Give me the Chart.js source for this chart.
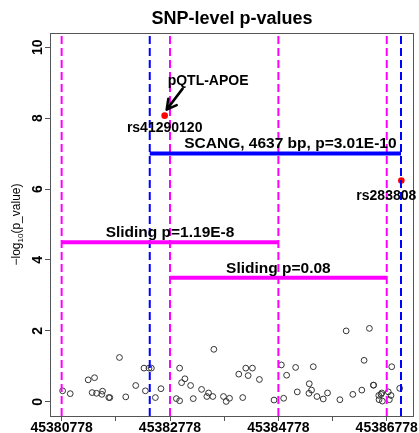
<!DOCTYPE html>
<html>
<head>
<meta charset="utf-8">
<script src="https://cdn.jsdelivr.net/npm/chart.js@4.4.0/dist/chart.umd.min.js"></script>
<style>
html, body { margin: 0; padding: 0; background: #fff; }
</style>
</head>
<body>
<canvas id="snpChart" width="419" height="433"></canvas>
<script>
// SNP positions and -log10(p) values
const snpPos = [45380796, 45380936, 45381268, 45381385, 45381341, 45381422, 45381533, 45381520, 45381667, 45381649,
  45381845, 45381961, 45382145, 45382298, 45382324, 45382390, 45382434, 45382508, 45382611, 45382895,
  45382955, 45382955, 45382992, 45383053, 45383158, 45383207, 45383360, 45383458, 45383489, 45383568,
  45383587, 45383765, 45383815, 45383876, 45384047, 45384120, 45384176, 45384220, 45384299, 45384428,
  45384698, 45384833, 45384875, 45384930, 45385096, 45385127, 45385348, 45385342, 45385390, 45385422,
  45385490, 45385606, 45385685, 45385913, 45386029, 45386152, 45386318, 45386360, 45386458, 45386531,
  45386631, 45386636, 45386673, 45386697, 45386686, 45386807, 45386826, 45386857, 45386870, 45387017, 45386536];
const snpLogP = [0.31, 0.23, 0.62, 0.68, 0.26, 0.24, 0.30, 0.21, 0.12, 0.12,
  1.25, 0.14, 0.46, 0.95, 0.31, 0.95, 0.95, 0.12, 0.37, 0.09,
  0.03, 0.95, 0.54, 0.65, 0.46, 0.09, 0.35, 0.15, 0.25, 0.15,
  1.48, 0.15, 0.01, 0.10, 0.78, 0.12, 0.95, 0.74, 0.95, 0.63,
  0.05, 1.04, 0.10, 0.75, 0.97, 0.28, 0.51, 0.24, 0.33, 0.99,
  0.15, 0.08, 0.25, 0.06, 2.00, 0.21, 0.33, 1.17, 2.07, 0.47,
  0.18, 0.06, 0.21, 0.02, 0.25, 0.28, 0.06, 0.18, 0.99, 0.38, 0.47];

// highlighted SNPs
const hitPos = [45382679, 45387047];
const hitLogP = [8.07, 6.24];
const hitNames = ['rs41290120', 'rs283808'];

// sliding windows
const slideStart = [45380778, 45382778];
const slideEnd = [45384778, 45386778];
const slideY = [4.5, 3.5];
const slideLabels = ['Sliding p=1.19E-8', 'Sliding p=0.08'];

// SCANG window
const scangStart = 45382404;
const scangEnd = 45387041;
const scangY = 7;
const scangLabel = 'SCANG, 4637 bp, p=3.01E-10';
const scangLabelX = 45385000;

// axes
const xMin = 45380563, xMax = 45387281;
const yMin = -0.4, yMax = 10.4;
const xTicks = [45380778, 45381778, 45382778, 45383778, 45384778, 45385778, 45386778];
const yTicks = [0, 2, 4, 6, 8, 10];

const FONT = "'Liberation Sans', Arial, sans-serif";
const MAGENTA = '#ff00ff', BLUE = '#0000ff';

function vline(x, color){
    return {
        data: [{x: x, y: yMin}, {x: x, y: yMax}],
        showLine: true, borderColor: color, borderWidth: 2, borderDash: [8, 4],
        pointRadius: 0, order: 2
    };
}
function hline(x1, x2, y, color){
    return {
        data: [{x: x1, y: y}, {x: x2, y: y}],
        showLine: true, borderColor: color, borderWidth: 4,
        pointRadius: 0, order: 1
    };
}

const datasets = [];
datasets.push({
    data: snpPos.map((p, i) => ({x: p, y: snpLogP[i]})),
    pointStyle: 'circle', pointRadius: 2.9, borderWidth: 1,
    borderColor: '#333', backgroundColor: 'rgba(0,0,0,0)', order: 4
});
datasets.push({
    data: hitPos.map((p, i) => ({x: p, y: hitLogP[i]})),
    pointStyle: 'circle', pointRadius: 3.3, borderWidth: 0,
    backgroundColor: '#ff0000', order: 3
});
[slideStart[0], slideStart[1], slideEnd[0], slideEnd[1]].forEach(x => datasets.push(vline(x, MAGENTA)));
[scangStart, scangEnd].forEach(x => datasets.push(vline(x, BLUE)));
datasets.push(hline(scangStart, scangEnd, scangY, BLUE));
slideStart.forEach((s, i) => datasets.push(hline(s, slideEnd[i], slideY[i], MAGENTA)));

/* --------------------------
   TEXT, BOX, ARROW
--------------------------- */
const annotate = {
    id: 'annotate',
    afterDraw(chart){
        const ctx = chart.ctx, xs = chart.scales.x, ys = chart.scales.y, a = chart.chartArea;
        ctx.save();

        // box
        ctx.strokeStyle = '#555';
        ctx.lineWidth = 1;
        ctx.strokeRect(a.left + 0.5, a.top + 0.5, a.right - a.left - 1, a.bottom - a.top);

        ctx.fillStyle = '#000';
        ctx.textBaseline = 'alphabetic';

        // title
        ctx.font = 'bold 18px ' + FONT;
        ctx.textAlign = 'center';
        ctx.fillText('SNP-level p-values', 232, 24);

        // x tick labels (every other tick)
        ctx.font = 'bold 14px ' + FONT;
        xTicks.forEach((v, i) => {
            if (i % 2) return;
            ctx.fillText(String(v), xs.getPixelForValue(v), 432);
        });

        // y tick labels, rotated
        yTicks.forEach(v => {
            ctx.save();
            ctx.translate(42, ys.getPixelForValue(v));
            ctx.rotate(-Math.PI / 2);
            ctx.textAlign = 'center';
            ctx.fillText(String(v), 0, 0);
            ctx.restore();
        });

        // y axis title with subscript
        ctx.save();
        ctx.translate(20, (a.top + a.bottom) / 2);
        ctx.rotate(-Math.PI / 2);
        const f1 = '12px ' + FONT, f2 = '8px ' + FONT;
        ctx.font = f1; const w1 = ctx.measureText('\u2212log').width, w3 = ctx.measureText('(p_value)').width;
        ctx.font = f2; const w2 = ctx.measureText('10').width;
        let sx = -(w1 + w2 + w3) / 2;
        ctx.textAlign = 'left';
        ctx.font = f1; ctx.fillText('\u2212log', sx, 0); sx += w1;
        ctx.font = f2; ctx.fillText('10', sx, 3); sx += w2;
        ctx.font = f1; ctx.fillText('(p_value)', sx, 0);
        ctx.restore();

        // window labels
        ctx.font = 'bold 15.5px ' + FONT;
        ctx.textAlign = 'center';
        ctx.fillText(scangLabel, xs.getPixelForValue(scangLabelX), ys.getPixelForValue(scangY) - 6);
        slideLabels.forEach((t, i) => {
            const mid = (slideStart[i] + slideEnd[i]) / 2;
            ctx.fillText(t, xs.getPixelForValue(mid), ys.getPixelForValue(slideY[i]) - 5);
        });

        // SNP names
        ctx.font = 'bold 14px ' + FONT;
        const p0x = xs.getPixelForValue(hitPos[0]), p0y = ys.getPixelForValue(hitLogP[0]);
        const p1x = xs.getPixelForValue(hitPos[1]), p1y = ys.getPixelForValue(hitLogP[1]);
        ctx.fillText(hitNames[0], p0x, p0y + 16);
        ctx.textAlign = 'left';
        ctx.fillText(hitNames[1], p1x - 45, p1y + 19);
        ctx.fillText('pQTL-APOE', p0x + 3, p0y - 31);

        // arrow
        const tx = p0x + 2, ty = p0y - 6, fx = p0x + 18, fy = p0y - 27;
        ctx.strokeStyle = '#000';
        ctx.lineWidth = 2.5;
        ctx.lineCap = 'round';
        ctx.beginPath();
        ctx.moveTo(fx, fy); ctx.lineTo(tx, ty);
        const ang = Math.atan2(ty - fy, tx - fx);
        ctx.moveTo(tx, ty); ctx.lineTo(tx - 11 * Math.cos(ang - 0.5), ty - 11 * Math.sin(ang - 0.5));
        ctx.moveTo(tx, ty); ctx.lineTo(tx - 11 * Math.cos(ang + 0.5), ty - 11 * Math.sin(ang + 0.5));
        ctx.stroke();

        ctx.restore();
    }
};

new Chart(document.getElementById('snpChart'), {
    type: 'scatter',
    data: { datasets: datasets },
    options: {
        responsive: false,
        animation: false,
        layout: { padding: { left: 0, right: 4, top: 33, bottom: 0 } },
        plugins: { legend: { display: false }, tooltip: { enabled: false } },
        scales: {
            x: {
                type: 'linear', min: xMin, max: xMax,
                afterBuildTicks: s => { s.ticks = xTicks.map(v => ({value: v})); },
                afterFit: s => { s.height = 17; },
                ticks: { display: false },
                grid: { drawOnChartArea: false, drawTicks: true, tickLength: 5, color: '#555' },
                border: { display: false }
            },
            y: {
                type: 'linear', min: yMin, max: yMax,
                afterBuildTicks: s => { s.ticks = yTicks.map(v => ({value: v})); },
                afterFit: s => { s.width = 50; },
                ticks: { display: false },
                grid: { drawOnChartArea: false, drawTicks: true, tickLength: 5, color: '#555' },
                border: { display: false }
            }
        }
    },
    plugins: [annotate]
});
</script>
</body>
</html>
